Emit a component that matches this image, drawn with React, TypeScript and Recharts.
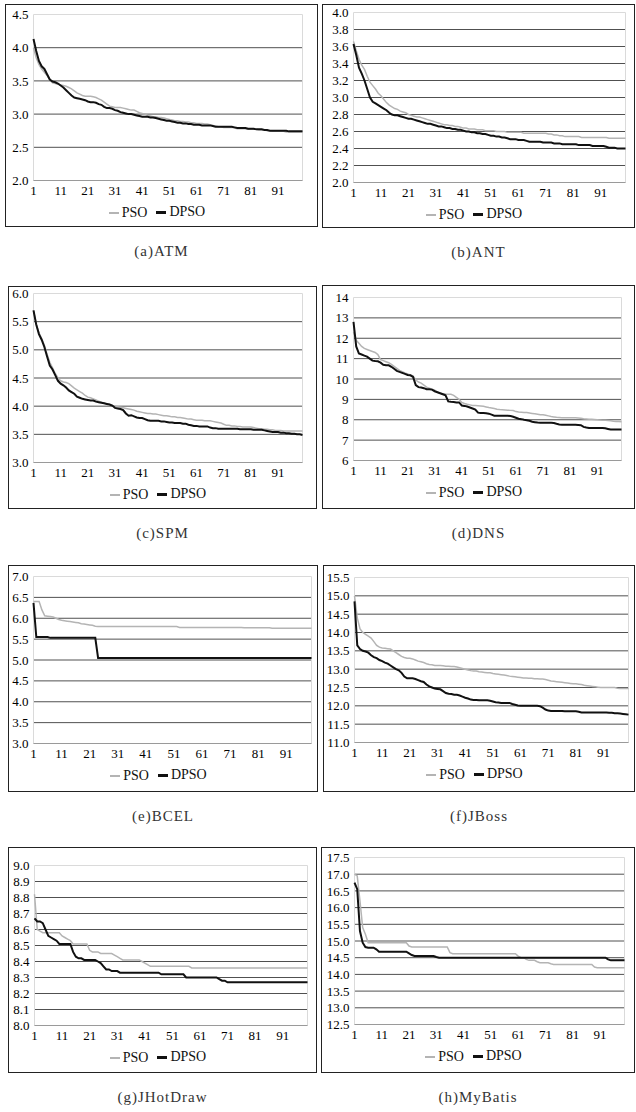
import React from 'react'
import { LineChart, Line, XAxis, YAxis, CartesianGrid, ReferenceArea } from 'recharts'

// iterations 1..100 (x categories)
const iterations = Array.from({ length: 100 }, (_, i) => i + 1)

const atmPso = [
  4.00, 3.85, 3.75, 3.68, 3.63, 3.58, 3.52, 3.47, 3.46, 3.45,
  3.44, 3.43, 3.42, 3.40, 3.38, 3.35, 3.32, 3.30, 3.28, 3.27,
  3.27, 3.27, 3.26, 3.25, 3.23, 3.21, 3.18, 3.15, 3.12, 3.11,
  3.10, 3.10, 3.10, 3.09, 3.08, 3.07, 3.06, 3.06, 3.04, 3.02,
  3.01, 3.00, 2.98, 2.97, 2.96, 2.96, 2.95, 2.95, 2.94, 2.93,
  2.92, 2.91, 2.90, 2.90, 2.89, 2.89, 2.88, 2.88, 2.87, 2.87,
  2.86, 2.86, 2.86, 2.85, 2.85, 2.84, 2.83, 2.82, 2.81, 2.81,
  2.80, 2.80, 2.80, 2.80, 2.79, 2.78, 2.78, 2.78, 2.78, 2.77,
  2.77, 2.77, 2.77, 2.76, 2.76, 2.76, 2.75, 2.75, 2.74, 2.74,
  2.74, 2.74, 2.74, 2.73, 2.73, 2.73, 2.73, 2.73, 2.73, 2.73,
]
const atmDpso = [
  4.13, 3.95, 3.80, 3.72, 3.68, 3.60, 3.52, 3.49, 3.48, 3.46,
  3.43, 3.40, 3.36, 3.32, 3.28, 3.25, 3.24, 3.23, 3.22, 3.21,
  3.19, 3.18, 3.18, 3.17, 3.15, 3.14, 3.11, 3.09, 3.09, 3.08,
  3.06, 3.05, 3.03, 3.02, 3.01, 3.00, 3.00, 2.99, 2.98, 2.97,
  2.96, 2.96, 2.96, 2.95, 2.95, 2.94, 2.93, 2.92, 2.91, 2.90,
  2.90, 2.89, 2.88, 2.87, 2.87, 2.86, 2.86, 2.85, 2.85, 2.84,
  2.84, 2.84, 2.83, 2.83, 2.83, 2.83, 2.82, 2.81, 2.81, 2.81,
  2.81, 2.81, 2.81, 2.81, 2.80, 2.79, 2.79, 2.79, 2.79, 2.78,
  2.78, 2.78, 2.77, 2.77, 2.77, 2.76, 2.76, 2.75, 2.75, 2.75,
  2.75, 2.75, 2.75, 2.75, 2.74, 2.74, 2.74, 2.74, 2.74, 2.74,
]

const antPso = [
  3.66, 3.55, 3.45, 3.38, 3.33, 3.25, 3.18, 3.14, 3.10, 3.05,
  3.02, 2.98, 2.94, 2.91, 2.89, 2.87, 2.86, 2.84, 2.83, 2.82,
  2.80, 2.79, 2.78, 2.77, 2.77, 2.76, 2.75, 2.74, 2.73, 2.72,
  2.71, 2.70, 2.69, 2.68, 2.68, 2.67, 2.67, 2.66, 2.66, 2.65,
  2.64, 2.64, 2.63, 2.63, 2.63, 2.62, 2.62, 2.62, 2.61, 2.61,
  2.61, 2.61, 2.60, 2.60, 2.60, 2.60, 2.59, 2.59, 2.59, 2.59,
  2.59, 2.59, 2.58, 2.58, 2.58, 2.58, 2.58, 2.58, 2.58, 2.58,
  2.58, 2.57, 2.57, 2.56, 2.56, 2.55, 2.55, 2.54, 2.54, 2.54,
  2.54, 2.54, 2.54, 2.53, 2.53, 2.53, 2.53, 2.53, 2.53, 2.53,
  2.53, 2.53, 2.53, 2.52, 2.52, 2.52, 2.52, 2.52, 2.52, 2.52,
]
const antDpso = [
  3.63, 3.50, 3.35, 3.28, 3.20, 3.10, 3.00, 2.95, 2.93, 2.91,
  2.89, 2.87, 2.85, 2.82, 2.80, 2.79, 2.79, 2.78, 2.77, 2.76,
  2.75, 2.75, 2.74, 2.73, 2.72, 2.71, 2.70, 2.69, 2.69, 2.68,
  2.67, 2.66, 2.66, 2.65, 2.64, 2.64, 2.63, 2.63, 2.62, 2.62,
  2.61, 2.60, 2.60, 2.59, 2.59, 2.58, 2.58, 2.57, 2.57, 2.56,
  2.55, 2.55, 2.54, 2.54, 2.53, 2.53, 2.52, 2.51, 2.51, 2.51,
  2.50, 2.50, 2.50, 2.49, 2.48, 2.48, 2.48, 2.48, 2.48, 2.47,
  2.47, 2.47, 2.47, 2.46, 2.46, 2.46, 2.45, 2.45, 2.45, 2.45,
  2.45, 2.45, 2.44, 2.44, 2.44, 2.44, 2.44, 2.43, 2.43, 2.43,
  2.43, 2.43, 2.42, 2.41, 2.41, 2.41, 2.40, 2.40, 2.40, 2.40,
]

const spmPso = [
  5.70, 5.46, 5.30, 5.20, 5.08, 4.92, 4.78, 4.68, 4.58, 4.50,
  4.45, 4.43, 4.42, 4.40, 4.36, 4.32, 4.29, 4.26, 4.23, 4.19,
  4.16, 4.15, 4.13, 4.11, 4.09, 4.07, 4.05, 4.04, 4.03, 4.01,
  4.00, 3.99, 3.98, 3.97, 3.96, 3.95, 3.94, 3.93, 3.91, 3.90,
  3.89, 3.88, 3.87, 3.87, 3.86, 3.86, 3.85, 3.84, 3.83, 3.83,
  3.82, 3.81, 3.81, 3.80, 3.80, 3.79, 3.78, 3.77, 3.77, 3.76,
  3.75, 3.75, 3.75, 3.74, 3.74, 3.74, 3.73, 3.72, 3.71, 3.70,
  3.68, 3.66, 3.66, 3.65, 3.65, 3.64, 3.64, 3.63, 3.63, 3.63,
  3.63, 3.62, 3.61, 3.60, 3.60, 3.59, 3.59, 3.58, 3.58, 3.57,
  3.57, 3.57, 3.56, 3.56, 3.56, 3.56, 3.56, 3.56, 3.56, 3.56,
]
const spmDpso = [
  5.70, 5.45, 5.28, 5.18, 5.05, 4.88, 4.72, 4.65, 4.55, 4.45,
  4.40, 4.37, 4.33, 4.28, 4.25, 4.22, 4.17, 4.15, 4.13, 4.12,
  4.11, 4.10, 4.10, 4.08, 4.07, 4.06, 4.05, 4.04, 4.03, 4.01,
  3.97, 3.96, 3.95, 3.93, 3.87, 3.83, 3.84, 3.82, 3.80, 3.79,
  3.79, 3.77, 3.75, 3.74, 3.74, 3.74, 3.74, 3.73, 3.73, 3.72,
  3.71, 3.71, 3.70, 3.70, 3.70, 3.69, 3.69, 3.67, 3.66, 3.65,
  3.65, 3.64, 3.64, 3.64, 3.64, 3.62, 3.61, 3.61, 3.60, 3.60,
  3.60, 3.60, 3.60, 3.60, 3.60, 3.60, 3.59, 3.59, 3.59, 3.59,
  3.59, 3.58, 3.58, 3.58, 3.58, 3.57, 3.56, 3.55, 3.54, 3.54,
  3.54, 3.53, 3.53, 3.52, 3.52, 3.51, 3.51, 3.50, 3.50, 3.49,
]

const dnsPso = [
  12.30, 11.90, 11.75, 11.60, 11.50, 11.45, 11.40, 11.35, 11.30, 11.20,
  10.95, 10.90, 10.85, 10.80, 10.72, 10.62, 10.52, 10.42, 10.36, 10.30,
  10.25, 10.20, 10.15, 9.95, 9.85, 9.80, 9.70, 9.60, 9.55, 9.50,
  9.45, 9.35, 9.30, 9.28, 9.26, 9.25, 9.25, 9.20, 9.10, 9.00,
  8.85, 8.80, 8.76, 8.73, 8.70, 8.70, 8.69, 8.68, 8.66, 8.63,
  8.60, 8.58, 8.55, 8.52, 8.50, 8.49, 8.48, 8.47, 8.46, 8.45,
  8.40, 8.38, 8.37, 8.36, 8.35, 8.33, 8.31, 8.29, 8.27, 8.25,
  8.24, 8.22, 8.19, 8.16, 8.14, 8.12, 8.11, 8.10, 8.10, 8.10,
  8.10, 8.10, 8.10, 8.09, 8.07, 8.05, 8.04, 8.03, 8.02, 8.01,
  8.00, 7.99, 7.98, 7.97, 7.96, 7.95, 7.93, 7.92, 7.91, 7.90,
]
const dnsDpso = [
  12.80, 11.60, 11.25, 11.20, 11.15, 11.10, 11.00, 10.90, 10.88, 10.87,
  10.80, 10.70, 10.68, 10.67, 10.60, 10.50, 10.40, 10.35, 10.30, 10.25,
  10.20, 10.18, 10.10, 9.70, 9.60, 9.58, 9.55, 9.50, 9.50, 9.48,
  9.40, 9.35, 9.30, 9.25, 9.20, 8.90, 8.88, 8.87, 8.85, 8.85,
  8.70, 8.68, 8.65, 8.60, 8.55, 8.50, 8.35, 8.33, 8.33, 8.32,
  8.30, 8.25, 8.20, 8.20, 8.20, 8.20, 8.20, 8.20, 8.18, 8.15,
  8.10, 8.05, 8.03, 8.00, 7.98, 7.95, 7.90, 7.88, 7.86, 7.85,
  7.85, 7.85, 7.85, 7.85, 7.84, 7.80, 7.77, 7.76, 7.75, 7.75,
  7.75, 7.75, 7.75, 7.74, 7.73, 7.65, 7.62, 7.60, 7.60, 7.60,
  7.60, 7.60, 7.60, 7.58, 7.55, 7.52, 7.52, 7.52, 7.52, 7.52,
]

const bcelPso = [
  6.40, 6.40, 6.40, 6.20, 6.06, 6.05, 6.04, 6.03, 6.00, 5.97,
  5.95, 5.94, 5.93, 5.92, 5.91, 5.90, 5.89, 5.87, 5.86, 5.85,
  5.84, 5.83, 5.81, 5.80, 5.80, 5.80, 5.80, 5.80, 5.80, 5.80,
  5.80, 5.80, 5.80, 5.80, 5.80, 5.80, 5.80, 5.80, 5.80, 5.80,
  5.80, 5.80, 5.80, 5.80, 5.80, 5.80, 5.80, 5.80, 5.80, 5.80,
  5.80, 5.80, 5.78, 5.78, 5.78, 5.78, 5.78, 5.78, 5.78, 5.78,
  5.78, 5.78, 5.78, 5.78, 5.78, 5.78, 5.78, 5.78, 5.78, 5.78,
  5.78, 5.78, 5.78, 5.78, 5.78, 5.77, 5.77, 5.77, 5.77, 5.77,
  5.77, 5.77, 5.77, 5.77, 5.77, 5.76, 5.76, 5.76, 5.76, 5.76,
  5.76, 5.76, 5.76, 5.76, 5.76, 5.76, 5.76, 5.76, 5.76, 5.76,
]
const bcelDpso = [
  6.37, 5.55, 5.55, 5.55, 5.55, 5.55, 5.53, 5.53, 5.53, 5.53,
  5.53, 5.53, 5.53, 5.53, 5.53, 5.53, 5.53, 5.53, 5.53, 5.53,
  5.53, 5.53, 5.53, 5.05, 5.05, 5.05, 5.05, 5.05, 5.05, 5.05,
  5.05, 5.05, 5.05, 5.05, 5.05, 5.05, 5.05, 5.05, 5.05, 5.05,
  5.05, 5.05, 5.05, 5.05, 5.05, 5.05, 5.05, 5.05, 5.05, 5.05,
  5.05, 5.05, 5.05, 5.05, 5.05, 5.05, 5.05, 5.05, 5.05, 5.05,
  5.05, 5.05, 5.05, 5.05, 5.05, 5.05, 5.05, 5.05, 5.05, 5.05,
  5.05, 5.05, 5.05, 5.05, 5.05, 5.05, 5.05, 5.05, 5.05, 5.05,
  5.05, 5.05, 5.05, 5.05, 5.05, 5.05, 5.05, 5.05, 5.05, 5.05,
  5.05, 5.05, 5.05, 5.05, 5.05, 5.05, 5.05, 5.05, 5.05, 5.05,
]

const jbossPso = [
  15.00, 14.40, 14.10, 14.00, 13.95, 13.90, 13.85, 13.75, 13.65, 13.60,
  13.58, 13.57, 13.56, 13.55, 13.50, 13.45, 13.40, 13.35, 13.32, 13.30,
  13.30, 13.28, 13.25, 13.22, 13.20, 13.18, 13.15, 13.13, 13.12, 13.10,
  13.10, 13.10, 13.09, 13.08, 13.08, 13.07, 13.07, 13.06, 13.04, 13.02,
  13.00, 12.98, 12.96, 12.95, 12.95, 12.93, 12.92, 12.91, 12.90, 12.90,
  12.88, 12.87, 12.86, 12.85, 12.84, 12.83, 12.81, 12.80, 12.79, 12.78,
  12.77, 12.76, 12.76, 12.75, 12.75, 12.74, 12.74, 12.73, 12.73, 12.72,
  12.70, 12.68, 12.67, 12.66, 12.65, 12.64, 12.63, 12.62, 12.61, 12.60,
  12.60, 12.59, 12.58, 12.56, 12.55, 12.54, 12.53, 12.52, 12.51, 12.50,
  12.50, 12.50, 12.50, 12.50, 12.50, 12.48, 12.47, 12.47, 12.47, 12.47,
]
const jbossDpso = [
  14.85, 13.65, 13.55, 13.50, 13.48, 13.45, 13.38, 13.33, 13.30, 13.25,
  13.22, 13.18, 13.15, 13.10, 13.05, 13.00, 12.97, 12.90, 12.80, 12.75,
  12.75, 12.75, 12.73, 12.70, 12.67, 12.65, 12.58, 12.53, 12.50, 12.47,
  12.46, 12.45, 12.40, 12.35, 12.33, 12.32, 12.30, 12.30, 12.28, 12.25,
  12.22, 12.20, 12.17, 12.16, 12.16, 12.15, 12.15, 12.15, 12.15, 12.14,
  12.12, 12.10, 12.09, 12.08, 12.08, 12.08, 12.08, 12.05, 12.03, 12.01,
  12.00, 12.00, 12.00, 12.00, 12.00, 12.00, 12.00, 11.99, 11.95, 11.90,
  11.87, 11.86, 11.86, 11.86, 11.86, 11.86, 11.85, 11.85, 11.85, 11.85,
  11.85, 11.84, 11.82, 11.82, 11.82, 11.82, 11.82, 11.82, 11.82, 11.82,
  11.82, 11.82, 11.81, 11.81, 11.80, 11.80, 11.79, 11.78, 11.77, 11.76,
]

const jhotdrawPso = [
  8.82, 8.60, 8.59, 8.58, 8.58, 8.58, 8.58, 8.58, 8.58, 8.58,
  8.56, 8.55, 8.54, 8.53, 8.51, 8.51, 8.51, 8.51, 8.51, 8.51,
  8.47, 8.46, 8.46, 8.46, 8.45, 8.45, 8.45, 8.45, 8.45, 8.44,
  8.43, 8.42, 8.41, 8.41, 8.41, 8.41, 8.41, 8.41, 8.41, 8.40,
  8.39, 8.38, 8.37, 8.37, 8.37, 8.37, 8.37, 8.37, 8.37, 8.37,
  8.37, 8.37, 8.37, 8.37, 8.37, 8.37, 8.37, 8.36, 8.36, 8.36,
  8.36, 8.36, 8.36, 8.36, 8.36, 8.36, 8.36, 8.36, 8.36, 8.36,
  8.36, 8.36, 8.36, 8.36, 8.36, 8.36, 8.36, 8.36, 8.36, 8.36,
  8.36, 8.36, 8.36, 8.36, 8.36, 8.36, 8.36, 8.36, 8.36, 8.36,
  8.36, 8.36, 8.36, 8.36, 8.36, 8.36, 8.36, 8.36, 8.36, 8.36,
]
const jhotdrawDpso = [
  8.67, 8.65, 8.65, 8.64, 8.60, 8.56, 8.55, 8.54, 8.53, 8.51,
  8.51, 8.51, 8.51, 8.51, 8.46, 8.43, 8.42, 8.42, 8.41, 8.41,
  8.41, 8.41, 8.41, 8.40, 8.39, 8.37, 8.35, 8.35, 8.34, 8.34,
  8.34, 8.33, 8.33, 8.33, 8.33, 8.33, 8.33, 8.33, 8.33, 8.33,
  8.33, 8.33, 8.33, 8.33, 8.33, 8.33, 8.32, 8.32, 8.32, 8.32,
  8.32, 8.32, 8.32, 8.32, 8.32, 8.30, 8.30, 8.30, 8.30, 8.30,
  8.30, 8.30, 8.30, 8.30, 8.30, 8.30, 8.30, 8.29, 8.28, 8.28,
  8.27, 8.27, 8.27, 8.27, 8.27, 8.27, 8.27, 8.27, 8.27, 8.27,
  8.27, 8.27, 8.27, 8.27, 8.27, 8.27, 8.27, 8.27, 8.27, 8.27,
  8.27, 8.27, 8.27, 8.27, 8.27, 8.27, 8.27, 8.27, 8.27, 8.27,
]

const mybatisPso = [
  17.00, 16.95, 16.20, 15.40, 15.20, 14.95, 14.95, 14.95, 14.95, 14.95,
  14.95, 14.95, 14.95, 14.95, 14.95, 14.95, 14.95, 14.95, 14.95, 14.95,
  14.85, 14.82, 14.82, 14.82, 14.82, 14.82, 14.82, 14.82, 14.82, 14.82,
  14.82, 14.82, 14.82, 14.82, 14.82, 14.65, 14.62, 14.62, 14.62, 14.62,
  14.62, 14.62, 14.62, 14.62, 14.62, 14.62, 14.62, 14.62, 14.62, 14.62,
  14.62, 14.62, 14.62, 14.62, 14.62, 14.62, 14.62, 14.62, 14.62, 14.62,
  14.55, 14.50, 14.50, 14.45, 14.42, 14.42, 14.42, 14.38, 14.35, 14.35,
  14.35, 14.35, 14.32, 14.30, 14.30, 14.30, 14.30, 14.30, 14.30, 14.30,
  14.30, 14.30, 14.30, 14.30, 14.30, 14.30, 14.30, 14.30, 14.22, 14.20,
  14.20, 14.20, 14.20, 14.20, 14.20, 14.20, 14.20, 14.20, 14.20, 14.20,
]
const mybatisDpso = [
  16.75, 16.55, 15.30, 14.95, 14.82, 14.80, 14.80, 14.80, 14.75, 14.68,
  14.68, 14.68, 14.68, 14.68, 14.68, 14.68, 14.68, 14.68, 14.68, 14.68,
  14.63, 14.58, 14.55, 14.55, 14.55, 14.55, 14.55, 14.55, 14.55, 14.55,
  14.52, 14.50, 14.50, 14.50, 14.50, 14.50, 14.50, 14.50, 14.50, 14.50,
  14.50, 14.50, 14.50, 14.50, 14.50, 14.50, 14.50, 14.50, 14.50, 14.50,
  14.50, 14.50, 14.50, 14.50, 14.50, 14.50, 14.50, 14.50, 14.50, 14.50,
  14.50, 14.50, 14.50, 14.50, 14.50, 14.50, 14.50, 14.50, 14.50, 14.50,
  14.50, 14.50, 14.50, 14.50, 14.50, 14.50, 14.50, 14.50, 14.50, 14.50,
  14.50, 14.50, 14.50, 14.50, 14.50, 14.50, 14.50, 14.50, 14.50, 14.50,
  14.50, 14.50, 14.50, 14.45, 14.42, 14.42, 14.42, 14.42, 14.42, 14.42,
]

// y tick values per panel
const atmTicks = [2.0, 2.5, 3.0, 3.5, 4.0, 4.5]
const antTicks = [2.0, 2.2, 2.4, 2.6, 2.8, 3.0, 3.2, 3.4, 3.6, 3.8, 4.0]
const spmTicks = [3.0, 3.5, 4.0, 4.5, 5.0, 5.5, 6.0]
const dnsTicks = [6, 7, 8, 9, 10, 11, 12, 13, 14]
const bcelTicks = [3.0, 3.5, 4.0, 4.5, 5.0, 5.5, 6.0, 6.5, 7.0]
const jbossTicks = [11.0, 11.5, 12.0, 12.5, 13.0, 13.5, 14.0, 14.5, 15.0, 15.5]
const jhotdrawTicks = [8.0, 8.1, 8.2, 8.3, 8.4, 8.5, 8.6, 8.7, 8.8, 8.9, 9.0]
const mybatisTicks = [12.5, 13.0, 13.5, 14.0, 14.5, 15.0, 15.5, 16.0, 16.5, 17.0, 17.5]

const captions = ['(a)ATM', '(b)ANT', '(c)SPM', '(d)DNS', '(e)BCEL', '(f)JBoss', '(g)JHotDraw', '(h)MyBatis']

const panels = [
  { pso: atmPso, dpso: atmDpso, ticks: atmTicks, digits: 1 },
  { pso: antPso, dpso: antDpso, ticks: antTicks, digits: 1 },
  { pso: spmPso, dpso: spmDpso, ticks: spmTicks, digits: 1 },
  { pso: dnsPso, dpso: dnsDpso, ticks: dnsTicks, digits: 0 },
  { pso: bcelPso, dpso: bcelDpso, ticks: bcelTicks, digits: 1 },
  { pso: jbossPso, dpso: jbossDpso, ticks: jbossTicks, digits: 1 },
  { pso: jhotdrawPso, dpso: jhotdrawDpso, ticks: jhotdrawTicks, digits: 1 },
  { pso: mybatisPso, dpso: mybatisDpso, ticks: mybatisTicks, digits: 1 },
]

// page layout of each framed panel and its plot area (page pixels)
const boxes = [
  { x0: 5, x1: 318, y0: 4, y1: 227, px0: 34, px1: 303, py0: 15, py1: 181 },
  { x0: 322, x1: 635, y0: 4, y1: 228, px0: 354, px1: 626, py0: 13, py1: 183 },
  { x0: 8, x1: 317, y0: 286, y1: 509, px0: 34, px1: 303, py0: 294, py1: 463 },
  { x0: 322, x1: 635, y0: 285, y1: 509, px0: 354, px1: 622, py0: 298, py1: 461 },
  { x0: 8, x1: 318, y0: 565, y1: 792, px0: 34, px1: 312, py0: 577, py1: 744 },
  { x0: 323, x1: 635, y0: 565, y1: 792, px0: 355, px1: 629, py0: 578, py1: 743 },
  { x0: 8, x1: 317, y0: 847, y1: 1073, px0: 35, px1: 308, py0: 866, py1: 1026 },
  { x0: 321, x1: 635, y0: 847, y1: 1073, px0: 355, px1: 625, py0: 858, py1: 1025 },
]

const FONT = '"Liberation Serif", "DejaVu Serif", serif'
const BORDER = 1.5
const X_AXIS_H = 22

function LegendRow({ top }: { top: number }) {
  const item = (color: string, thick: number, label: string) => (
    <span style={{ display: 'inline-flex', alignItems: 'center', marginRight: 9 }}>
      <span style={{ display: 'inline-block', width: 10, height: thick, background: color, marginRight: 3 }} />
      {label}
    </span>
  )
  return (
    <div style={{ position: 'absolute', left: 0, right: 0, top, textAlign: 'center', fontFamily: FONT, fontSize: 14, color: '#111', lineHeight: '16px' }}>
      {item('#b4b4b4', 2, 'PSO')}
      {item('#111', 3, 'DPSO')}
    </div>
  )
}

function Panel({ idx }: { idx: number }) {
  const p = panels[idx]
  const b = boxes[idx]
  const data = iterations.map((it, i) => ({ it, PSO: p.pso[i], DPSO: p.dpso[i] }))
  const min = p.ticks[0]
  const max = p.ticks[p.ticks.length - 1]
  const tickStyle = { fontFamily: FONT, fontSize: 13, fill: '#000' }

  const innerX = b.x0 + BORDER
  const innerY = b.y0 + BORDER
  const w = b.x1 - b.x0 - 2 * BORDER
  const h = b.y1 - b.y0 - 2 * BORDER
  const yAxisW = b.px0 - innerX
  const margin = {
    top: b.py0 - innerY,
    right: innerX + w - b.px1,
    left: 0,
    bottom: innerY + h - b.py1 - X_AXIS_H,
  }

  return (
    <>
      <div style={{ position: 'absolute', left: b.x0, top: b.y0, width: b.x1 - b.x0, height: b.y1 - b.y0, border: `${BORDER}px solid #222`, boxSizing: 'border-box', background: '#fff' }}>
        <LineChart width={w} height={h} data={data} margin={margin}>
          <ReferenceArea y1={min} y2={max} fill="none" stroke="#dadada" strokeWidth={1} ifOverflow="visible" />
          <CartesianGrid vertical={false} stroke="#505050" horizontalValues={p.ticks.slice(1, -1)} />
          <XAxis dataKey="it" interval={9} tickLine={false} tickSize={0} axisLine={{ stroke: '#9a9a9a' }} tick={tickStyle} height={X_AXIS_H} tickMargin={5} />
          <YAxis
            domain={[min, max]}
            ticks={p.ticks}
            interval={0}
            width={yAxisW}
            tickLine={false}
            tickSize={0}
            axisLine={false}
            tick={tickStyle}
            tickMargin={5}
            tickFormatter={(v: number) => v.toFixed(p.digits)}
            allowDataOverflow
          />
          <Line type="linear" dataKey="PSO" stroke="#b4b4b4" strokeWidth={1.5} dot={false} isAnimationActive={false} />
          <Line type="linear" dataKey="DPSO" stroke="#111" strokeWidth={2} dot={false} isAnimationActive={false} />
        </LineChart>
        <LegendRow top={b.py1 - innerY + 21} />
      </div>
      <div style={{ position: 'absolute', left: b.x0, top: b.y1 + 16, width: b.x1 - b.x0, textAlign: 'center', fontFamily: FONT, fontSize: 15, color: '#333', letterSpacing: 1 }}>
        {captions[idx]}
      </div>
    </>
  )
}

export default function App() {
  return (
    <div style={{ position: 'absolute', left: 0, top: 0, width: 636, height: 1112, background: '#fff', overflow: 'hidden' }}>
      {panels.map((_, i) => (
        <Panel key={i} idx={i} />
      ))}
    </div>
  )
}
